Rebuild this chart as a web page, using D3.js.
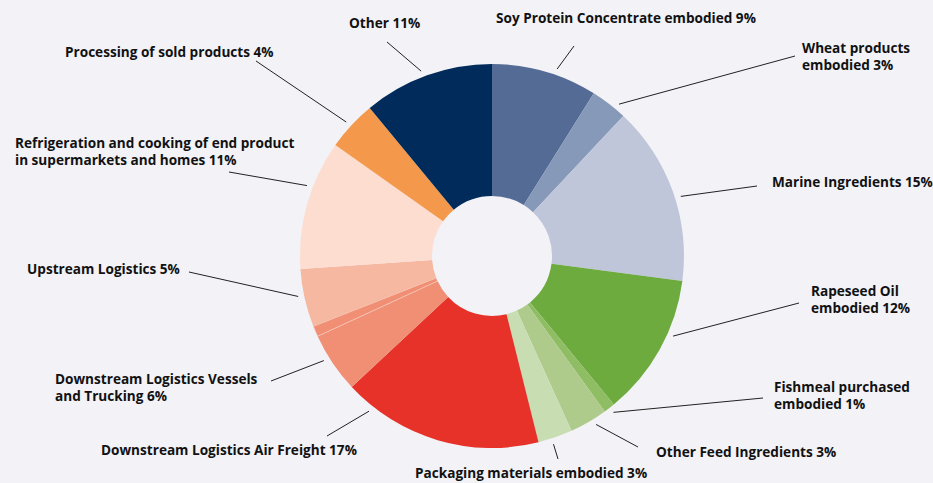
<!DOCTYPE html>
<html>
<head>
<meta charset="utf-8">
<script src="https://cdn.jsdelivr.net/npm/d3@7"></script>
<style>
    body { margin: 0; background: #f2f2f7; }
    svg { display: block; }
    .lbl { font-family: "Open Sans", sans-serif; font-weight: 700; font-size: 13.6px; fill: #111; }
</style>
</head>
<body>
<svg id="chart" width="933" height="483"></svg>
<script>
// slices, clockwise from 12 o'clock
const categories = [
    "Soy Protein Concentrate embodied", "Wheat products embodied", "Marine Ingredients",
    "Rapeseed Oil embodied", "Fishmeal purchased embodied", "Other Feed Ingredients",
    "Packaging materials embodied", "Downstream Logistics Air Freight",
    "Downstream Logistics Vessels", "Downstream Logistics Trucking", "Upstream Logistics",
    "Refrigeration and cooking of end product in supermarkets and homes",
    "Processing of sold products", "Other"
];
const shares = [8.9, 3.1, 15.1, 12.0, 0.95, 3.2, 2.9, 16.95, 5.1, 0.9, 4.9, 10.9, 4.2, 11.0];
const colors = [
    "#536b95", "#8799b8", "#c0c6da", "#6dab3f", "#8fbd64", "#afcb8c", "#c9ddb3",
    "#e63228", "#f18f75", "#f18f75", "#f6b8a0", "#fdddd0", "#f4994c", "#002b5a"
];
// label text lines (null = slice has no own label)
const labelText = [
    ["Soy Protein Concentrate embodied 9%"],
    ["Wheat products", "embodied 3%"],
    ["Marine Ingredients 15%"],
    ["Rapeseed Oil", "embodied 12%"],
    ["Fishmeal purchased", "embodied 1%"],
    ["Other Feed Ingredients 3%"],
    ["Packaging materials embodied 3%"],
    ["Downstream Logistics Air Freight 17%"],
    ["Downstream Logistics Vessels", "and Trucking 6%"],
    null,
    ["Upstream Logistics 5%"],
    ["Refrigeration and cooking of end product", "in supermarkets and homes 11%"],
    ["Processing of sold products 4%"],
    ["Other 11%"]
];

// layout: text x/baseline, leader outer end, where along the slice the leader touches (0..1)
const labelLayout = [
    {tx: 496, ty: 23,  lx: 574, ly: 46,  at: 0.6},
    {tx: 802, ty: 53,  lx: 795, ly: 56,  at: 0.71},
    {tx: 772, ty: 187, lx: 757, ly: 186, at: 0.54},
    {tx: 811, ty: 296, lx: 799, ly: 303, at: 0.38},
    {tx: 774, ty: 392, lx: 763, ly: 398, at: 0.45},
    {tx: 656, ty: 457, lx: 638, ly: 447, at: 0.37},
    {tx: 415, ty: 478, lx: 558, ly: 459, at: 0.61},
    {tx: 101, ty: 455, lx: 327, ly: 436, at: 0.86},
    {tx: 55,  ty: 384, lx: 271, ly: 381, at: 0.61},
    null,
    {tx: 27,  ty: 274, lx: 189, ly: 272, at: 0.55},
    {tx: 15,  ty: 148, lx: 229, ly: 172, at: 0.63},
    {tx: 65,  ty: 57,  lx: 256, ly: 61,  at: 0.48},
    {tx: 349, ty: 28,  lx: 387, ly: 42,  at: 0.47}
];

const svg = d3.select("#chart");
const cx = 492, cy = 256, R = 192, r0 = 60;
const lineGap = 16.5;

svg.append("rect").attr("width", 933).attr("height", 483).attr("fill", "#f2f2f7");

const data = categories.map((c, i) => ({name: c, value: shares[i], i: i}));
const pie = d3.pie().value(d => d.value).sort(null);
const arcs = pie(data);
const arc = d3.arc().innerRadius(r0).outerRadius(R);

const g = svg.append("g").attr("transform", `translate(${cx},${cy})`);

g.selectAll("path.slice")
    .data(arcs)
    .enter().append("path")
    .attr("class", "slice")
    .attr("d", arc)
    .attr("fill", d => colors[d.data.i])
    .attr("stroke", d => d.data.i == 9 ? "#f7d6cc" : "none")
    .attr("stroke-width", 0.6);

// leader lines + labels
arcs.forEach(a => {
    let lay = labelLayout[a.data.i];
    if (!lay) return;
    let ang = a.startAngle + (a.endAngle - a.startAngle) * lay.at;
    let rr = R + 6;
    let x1 = cx + rr * Math.sin(ang);
    let y1 = cy - rr * Math.cos(ang);

    svg.append("line")
        .attr("x1", x1).attr("y1", y1)
        .attr("x2", lay.lx).attr("y2", lay.ly)
        .attr("stroke", "#222")
        .attr("stroke-width", 1);

    labelText[a.data.i].forEach((line, k) => {
        svg.append("text")
            .attr("class", "lbl")
            .attr("x", lay.tx)
            .attr("y", lay.ty + k * lineGap)
            .text(line);
    });
});
</script>
</body>
</html>
